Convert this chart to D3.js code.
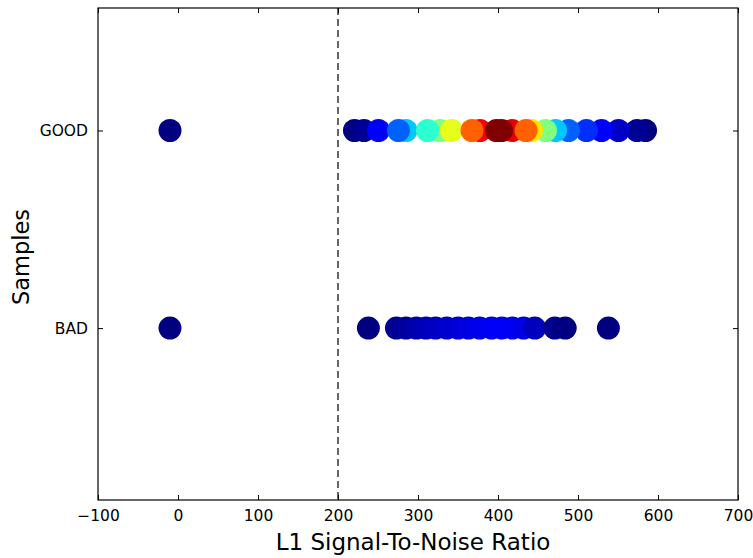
<!DOCTYPE html>
<html>
<head>
<meta charset="utf-8">
<script src="https://cdn.jsdelivr.net/npm/d3@7"></script>
<style>
  html, body { margin: 0; padding: 0; background: #fff; }
  svg { display: block; }
  text { font-family: "DejaVu Sans", sans-serif; fill: #000; }
</style>
</head>
<body>
<svg id="chart" width="753" height="558"></svg>
<script>
// Sample groups shown on the y axis (BAD = 0, GOOD = 1)
const categories = ["BAD", "GOOD"];

// L1 signal-to-noise ratio of each GOOD sample, listed in drawing order
const goodSNR = [-10, 220.6, 232.5, 285, 250.6, 275.6, 327.5, 311.9, 341.9, 377.5, 367.5,
                 584.4, 573.8, 550.6, 529.4, 510.6, 488.1, 471.9, 459.4, 441.9, 417.5, 435, 398, 404.4];
// relative point density of each GOOD sample (colour value, 0..1)
const goodDensity = [0.0, 0.0, 0.02, 0.32, 0.125, 0.22, 0.5, 0.42, 0.6, 0.88, 0.78,
                     0.0, 0.02, 0.07, 0.125, 0.17, 0.22, 0.32, 0.5, 0.65, 0.9, 0.78, 1.0, 1.0];

// L1 signal-to-noise ratio of each BAD sample
const badSNR = [-10, 238, 273, 285, 298, 310, 322, 336, 350, 363, 377, 392, 405, 418, 432, 446, 471, 484, 538];
// relative point density of each BAD sample
const badDensity = [0.0, 0.0, 0.02, 0.03, 0.045, 0.055, 0.065, 0.075, 0.085, 0.095, 0.105, 0.115, 0.12, 0.115, 0.1, 0.06, 0.015, 0.0, 0.0];

// x axis ticks and the quality threshold
const xTicks = [-100, 0, 100, 200, 300, 400, 500, 600, 700];
const threshold = 200;

// "jet" colour map
function jet(v) {
  const c = t => Math.max(0, Math.min(1, t));
  const r = c(1.5 - Math.abs(4 * v - 3));
  const g = c(1.5 - Math.abs(4 * v - 2));
  const b = c(1.5 - Math.abs(4 * v - 1));
  return d3.rgb(r * 255, g * 255, b * 255).toString();
}

const svg = d3.select("#chart");
const plotLeft = 98, plotRight = 738, plotTop = 8, plotBottom = 500;

const x = d3.scaleLinear().domain([-100, 700]).range([plotLeft, plotRight]);
const y = d3.scaleLinear().domain([-0.87, 1.62]).range([plotBottom, plotTop]);
const yIndex = d3.scaleOrdinal().domain(categories).range([0, 1]);

// threshold line
svg.append("line")
  .attr("x1", x(threshold)).attr("x2", x(threshold))
  .attr("y1", plotTop).attr("y2", plotBottom)
  .attr("stroke", "#000").attr("stroke-width", 1.2)
  .attr("stroke-dasharray", "7,4");

// points
const rows = [
  { cat: "GOOD", snr: goodSNR, dens: goodDensity },
  { cat: "BAD", snr: badSNR, dens: badDensity }
];
rows.forEach(row => {
  const pts = row.snr.map((v, i) => ({ v, d: row.dens[i] }));
  svg.append("g").selectAll("circle").data(pts).join("circle")
    .attr("cx", p => x(p.v))
    .attr("cy", y(yIndex(row.cat)))
    .attr("r", 11.5)
    .attr("fill", p => jet(p.d));
});

// axes: ticks point inward on all four sides
const tickLen = 5;
const gx = svg.append("g").attr("transform", `translate(0,${plotBottom})`)
  .call(d3.axisBottom(x).tickValues(xTicks).tickSizeInner(-tickLen).tickSizeOuter(0).tickPadding(10)
        .tickFormat(d => d < 0 ? "\u2212" + Math.abs(d) : d));
const gxTop = svg.append("g").attr("transform", `translate(0,${plotTop})`)
  .call(d3.axisTop(x).tickValues(xTicks).tickSizeInner(-tickLen).tickSizeOuter(0).tickFormat(""));
const gy = svg.append("g").attr("transform", `translate(${plotLeft},0)`)
  .call(d3.axisLeft(y).tickValues([0, 1]).tickSizeInner(-tickLen).tickSizeOuter(0).tickPadding(10)
        .tickFormat(d => categories[d]));
const gyRight = svg.append("g").attr("transform", `translate(${plotRight},0)`)
  .call(d3.axisRight(y).tickValues([0, 1]).tickSizeInner(-tickLen).tickSizeOuter(0).tickFormat(""));

[gx, gxTop, gy, gyRight].forEach(g => {
  g.select(".domain").remove();
  g.selectAll("line").attr("stroke", "#000");
  g.selectAll("text").attr("font-size", 15.5).attr("font-family", "DejaVu Sans, sans-serif").attr("fill", "#000");
});

// frame
svg.append("rect")
  .attr("x", plotLeft).attr("y", plotTop)
  .attr("width", plotRight - plotLeft).attr("height", plotBottom - plotTop)
  .attr("fill", "none").attr("stroke", "#000").attr("stroke-width", 1.2);

// axis titles
svg.append("text")
  .attr("x", (plotLeft + plotRight) / 2 - 5).attr("y", 550)
  .attr("text-anchor", "middle").attr("font-size", 23)
  .text("L1 Signal-To-Noise Ratio");
svg.append("text")
  .attr("transform", `translate(29,${(plotTop + plotBottom) / 2 + 3}) rotate(-90)`)
  .attr("text-anchor", "middle").attr("font-size", 22.5)
  .text("Samples");
</script>
</body>
</html>
